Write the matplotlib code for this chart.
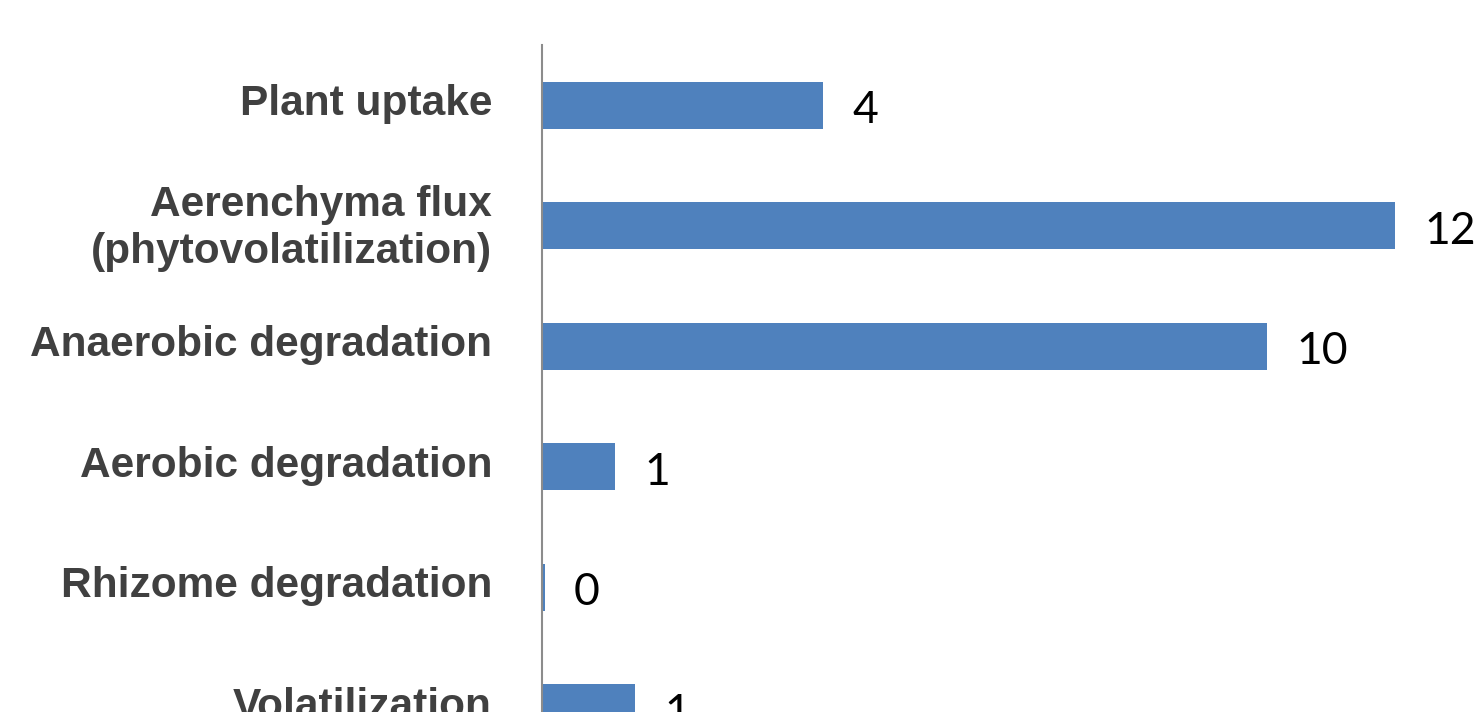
import matplotlib.pyplot as plt
from matplotlib.transforms import ScaledTranslation

# processes and their share (values rounded for the labels)
processes = ['Plant uptake', 'Aerenchyma flux\n(phytovolatilization)', 'Anaerobic degradation',
             'Aerobic degradation', 'Rhizome degradation', 'Volatilization']
shares = [3.95, 12.0, 10.2, 1.03, 0.04, 1.31]

bar_color = '#4F81BD'
text_color = '#404040'

fig = plt.figure(figsize=(14.75, 7.12), dpi=100)
# axes runs off the bottom edge so the last bar gets cut
ax = fig.add_axes([542/1475, -56/712, 960/1475, 723/712])

y = list(range(len(processes)))
ax.barh(y, shares, height=0.39, color=bar_color)

for yi, v in zip(y, shares):
    ax.annotate(f'{v:.0f}', (v, yi), xytext=(21, -4), textcoords='offset points',
                ha='left', va='center', fontsize=32, family='Lato', color='black')

ax.set_yticks(y)
ax.set_yticklabels(processes, fontsize=30.5, fontweight='bold', family='Liberation Sans',
                   color=text_color, ha='right', linespacing=1.25)
ax.tick_params(axis='y', length=0, pad=36)
# nudge the category names up a little
shift = ScaledTranslation(0, 4/72, fig.dpi_scale_trans)
for lbl in ax.get_yticklabels():
    lbl.set_transform(lbl.get_transform() + shift)
ax.set_ylim(len(processes) - 0.5, -0.5)
ax.set_xlim(0, 960/71.1)
ax.set_xticks([])

for s in ['top', 'right', 'bottom']:
    ax.spines[s].set_visible(False)
ax.spines['left'].set_color('#8c8c8c')
ax.spines['left'].set_linewidth(1.5)

fig.savefig('out.png', dpi=100)
